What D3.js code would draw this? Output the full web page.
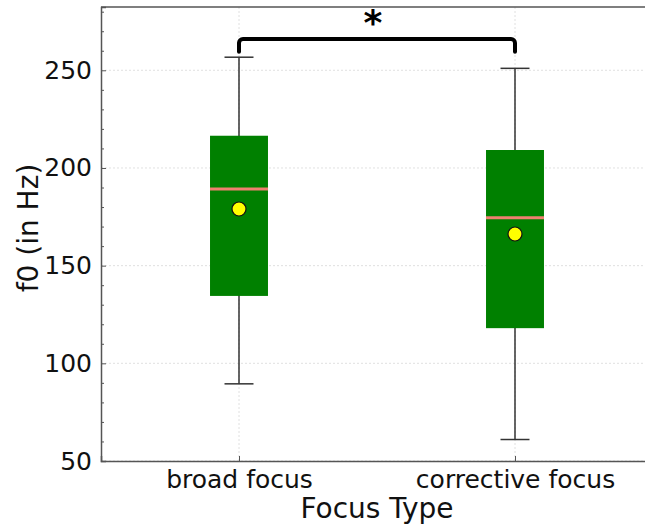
<!DOCTYPE html>
<html>
<head>
<meta charset="utf-8">
<script src="https://cdn.jsdelivr.net/npm/d3@7"></script>
<style>
  body { margin: 0; background: #fff; }
  svg text { font-family: 'DejaVu Sans', sans-serif; }
</style>
</head>
<body>
<svg id="viz" width="645" height="526"></svg>
<script>
const categories = ['broad focus', 'corrective focus'];
const positions = [1, 2];
const whiskerLow = [89.5, 61];
const q1 = [134.5, 118];
const median = [189.2, 174.5];
const q3 = [216.5, 209.2];
const whiskerHigh = [256.7, 251];
const means = [179, 166.2];
const yTicks = [50, 100, 150, 200, 250];

const margin = { left: 101, top: 7, right: -8, bottom: 65 };
const width = 645 - margin.left - margin.right;
const height = 526 - margin.top - margin.bottom;

const svg = d3.select('#viz')
  .append('g')
  .attr('transform', 'translate(' + margin.left + ',' + margin.top + ')');

// SCALES
let x = d3.scaleLinear().domain([0.5, 2.5]).range([0, width]);
let y = d3.scaleLinear().domain([50, 282.4]).range([height, 0]);

// GRID
svg.append('g')
  .selectAll('line')
  .data(yTicks)
  .enter()
  .append('line')
  .attr('x1', 0).attr('x2', width)
  .attr('y1', (d) => y(d)).attr('y2', (d) => y(d))
  .style('stroke', '#d8d8d8').style('stroke-width', 0.8)
  .style('stroke-dasharray', '2,2');
svg.append('g')
  .selectAll('line')
  .data(positions)
  .enter()
  .append('line')
  .attr('x1', (d) => x(d)).attr('x2', (d) => x(d))
  .attr('y1', 0).attr('y2', height)
  .style('stroke', '#d8d8d8').style('stroke-width', 0.8)
  .style('stroke-dasharray', '2,2');

// AXES
const yAxis = svg.append('g')
  .call(d3.axisLeft(y).tickValues(yTicks).tickSize(-5).tickPadding(9));
const yMinor = svg.append('g')
  .call(d3.axisLeft(y).tickValues(d3.range(60, 290, 10).filter((v) => v % 50 !== 0)).tickSize(-3).tickFormat(''));
yMinor.select('.domain').remove();
const xAxis = svg.append('g')
  .attr('transform', 'translate(0,' + height + ')')
  .call(d3.axisBottom(x).tickValues(positions).tickSize(-5).tickPadding(9)
    .tickFormat((d, i) => categories[i]));

[yAxis, yMinor, xAxis].forEach((g) => {
  g.attr('font-family', null);
  g.selectAll('.domain').style('stroke', '#555').style('stroke-width', 1.5);
  g.selectAll('.tick line').style('stroke', '#555').style('stroke-width', 1);
});
yAxis.selectAll('text').style('font-size', '25px').style('fill', '#111');
xAxis.selectAll('text').style('font-size', '25px').style('fill', '#111');

// top spine
svg.append('line')
  .attr('x1', 0).attr('x2', width).attr('y1', 0).attr('y2', 0)
  .style('stroke', '#555').style('stroke-width', 1.5);

// LABELS
svg.append('text')
  .attr('text-anchor', 'middle')
  .attr('x', (x(1) + x(2)) / 2)
  .attr('y', height + 57)
  .style('font-size', '28px')
  .style('fill', '#111')
  .text('Focus Type');
svg.append('text')
  .attr('transform', 'rotate(-90)')
  .attr('x', 0 - (y(50) + y(282.4)) / 2 + 6)
  .attr('y', -63)
  .attr('text-anchor', 'middle')
  .style('font-size', '28px')
  .style('fill', '#111')
  .text('f0 (in Hz)');

// DATA
const boxW = 0.21;
const box = svg.append('g')
  .selectAll('g')
  .data(positions)
  .enter()
  .append('g');

box.append('line')
  .attr('x1', (d) => x(d)).attr('x2', (d) => x(d))
  .attr('y1', (d, i) => y(whiskerLow[i])).attr('y2', (d, i) => y(whiskerHigh[i]))
  .style('stroke', '#333').style('stroke-width', 1.5);
box.selectAll('.cap')
  .data((d, i) => [{ p: d, v: whiskerLow[i] }, { p: d, v: whiskerHigh[i] }])
  .enter()
  .append('line')
  .attr('class', 'cap')
  .attr('x1', (d) => x(d.p - boxW / 4)).attr('x2', (d) => x(d.p + boxW / 4))
  .attr('y1', (d) => y(d.v)).attr('y2', (d) => y(d.v))
  .style('stroke', '#333').style('stroke-width', 1.5);
box.append('rect')
  .attr('x', (d) => x(d - boxW / 2))
  .attr('width', (d) => x(d + boxW / 2) - x(d - boxW / 2))
  .attr('y', (d, i) => y(q3[i]))
  .attr('height', (d, i) => y(q1[i]) - y(q3[i]))
  .style('fill', '#008000');
box.append('line')
  .attr('x1', (d) => x(d - boxW / 2)).attr('x2', (d) => x(d + boxW / 2))
  .attr('y1', (d, i) => y(median[i])).attr('y2', (d, i) => y(median[i]))
  .style('stroke', '#f08070').style('stroke-width', 3);
box.append('circle')
  .attr('cx', (d) => x(d))
  .attr('cy', (d, i) => y(means[i]))
  .attr('r', 7)
  .style('fill', '#ffff00')
  .style('stroke', '#111')
  .style('stroke-width', 1.2);

// SIGNIFICANCE BRACKET
const bLow = 259.5;
const bTop = 266;
const p = d3.path();
const r = 4;
p.moveTo(x(1), y(bLow));
p.lineTo(x(1), y(bTop) + r);
p.arcTo(x(1), y(bTop), x(1) + r, y(bTop), r);
p.lineTo(x(2) - r, y(bTop));
p.arcTo(x(2), y(bTop), x(2), y(bTop) + r, r);
p.lineTo(x(2), y(bLow));
svg.append('path')
  .attr('d', p.toString())
  .style('fill', 'none')
  .style('stroke', '#000')
  .style('stroke-width', 4)
  .style('stroke-linecap', 'round');
svg.append('text')
  .attr('x', (x(1) + x(2)) / 2 - 4)
  .attr('y', y(bTop) - 4)
  .attr('text-anchor', 'middle')
  .style('font-size', '36px')
  .style('font-weight', 'bold')
  .text('*');
</script>
</body>
</html>
